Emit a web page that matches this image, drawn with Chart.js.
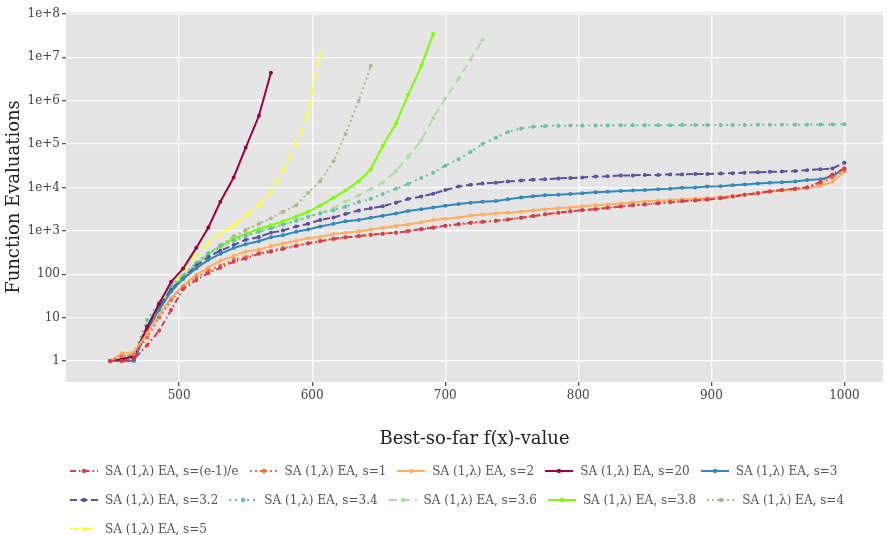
<!DOCTYPE html>
<html>
<head>
<meta charset="utf-8">
<script src="https://cdn.jsdelivr.net/npm/chart.js@4.4.1/dist/chart.umd.min.js"></script>
<style>
  body { margin: 0; background: #fff; }
  #wrap { position: relative; width: 887px; height: 535px; }
  #legend { position: absolute; left: 70px; top: 456px; width: 815px; display: flex; flex-wrap: wrap; font: 12px 'DejaVu Serif'; color: #555; }
  .item { display: flex; align-items: center; height: 29px; margin-right: 11px; white-space: nowrap; }
  .item canvas { margin-right: 7px; }
</style>
</head>
<body>
<div id="wrap">
  <canvas id="chart" width="887" height="535"></canvas>
  <div id="legend"></div>
</div>
<script>
// best-so-far f(x) targets (shared by every run)
const xs = [448, 457, 466, 476, 485, 494, 503, 513, 522, 531, 541, 550, 560, 569, 578, 588, 597, 606, 616, 625,
  635, 644, 653, 663, 672, 682, 691, 700, 710, 719, 728, 738, 747, 757, 766, 775, 785, 794, 803, 813,
  822, 832, 841, 850, 860, 869, 878, 888, 897, 907, 916, 925, 935, 944, 953, 963, 972, 982, 991, 1000];

const sE = [1, 1, 1.1, 2.3, 5, 15, 45, 74, 107, 141, 195, 229, 295, 330, 380, 447, 513, 575, 660, 710,
  760, 810, 860, 910, 980, 1100, 1200, 1320, 1430, 1530, 1620, 1700, 1820, 2000, 2190, 2400, 2630, 2820, 3020, 3160,
  3390, 3630, 3890, 4070, 4320, 4570, 4790, 5010, 5250, 5620, 6170, 6760, 7410, 8130, 8710, 9330, 10000, 13500, 20000, 27500];
const s1 = [1, 1.3, 1.4, 3.5, 10, 25, 50, 85, 120, 160, 215, 250, 310, 350, 400, 460, 520, 580, 650, 700,
  750, 800, 860, 920, 990, 1080, 1170, 1290, 1400, 1510, 1600, 1700, 1830, 2000, 2180, 2380, 2600, 2800, 3000, 3160,
  3400, 3650, 3900, 4100, 4350, 4600, 4850, 5050, 5300, 5700, 6200, 6800, 7500, 8200, 8800, 9400, 10200, 12500, 17000, 25000];
const s2 = [1, 1.5, 1.6, 4.3, 11.5, 28, 55, 98, 145, 205, 265, 330, 370, 445, 510, 590, 675, 725, 850, 910,
  980, 1070, 1170, 1290, 1410, 1580, 1780, 1900, 2040, 2240, 2370, 2510, 2630, 2750, 2950, 3160, 3310, 3470, 3670, 3890,
  4070, 4270, 4520, 4790, 4950, 5130, 5310, 5500, 5750, 6030, 6460, 6920, 7410, 7940, 8510, 9020, 9550, 11000, 13500, 22900];
const s20 = [1, 1.1, 1.3, 6, 21, 67, 135, 410, 1200, 4700, 17000, 82000, 450000, 4400000];
const s3 = [1, 1, 1, 5.2, 15, 40, 78, 138, 215, 295, 400, 490, 575, 710, 795, 955, 1070, 1260, 1450, 1660,
  1780, 2000, 2240, 2500, 2880, 3160, 3470, 3800, 4170, 4470, 4680, 4900, 5370, 5890, 6300, 6600, 6760, 7080, 7400, 7760,
  8000, 8300, 8500, 8700, 9100, 9300, 9800, 10000, 10500, 10700, 11200, 11700, 12300, 12900, 13200, 13800, 14800, 15500, 18200, 27500];
const s32 = [1, 1.1, 1.2, 6.3, 18, 45, 80, 158, 250, 350, 470, 620, 720, 910, 1020, 1260, 1450, 1780, 2040, 2450,
  2950, 3300, 3700, 4470, 5400, 6200, 7200, 8700, 10500, 11500, 12300, 12900, 13800, 14500, 15100, 15500, 16200, 16600, 17000, 17800,
  18200, 19000, 19000, 19500, 19500, 20000, 20000, 20400, 20400, 20900, 21400, 21900, 22400, 22900, 23400, 24000, 25100, 26300, 27500, 37000];
const s34 = [1, 1.2, 1.5, 8.8, 23, 56, 95, 185, 300, 440, 600, 770, 950, 1150, 1400, 1700, 2100, 2500, 3000, 3600,
  4600, 5500, 7100, 9300, 12000, 16600, 22000, 31600, 45000, 66000, 100000, 141000, 190000, 229000, 251000, 263000, 265000, 268000, 268000, 270000,
  270000, 271000, 272000, 272000, 273000, 273000, 274000, 275000, 275000, 276000, 276000, 277000, 278000, 278000, 279000, 280000, 281000, 282000, 284000, 288000];
const s36 = [1, 1.1, 1.2, 7, 20, 52, 90, 180, 290, 420, 580, 750, 950, 1150, 1400, 1750, 2150, 2600, 3300, 4700,
  6600, 9100, 13000, 24000, 51000, 123000, 400000, 1120000, 3200000, 8900000, 25000000];
const s38 = [1, 1, 1.1, 5.5, 18, 50, 83, 175, 290, 435, 660, 850, 1100, 1350, 1650, 2150, 2750, 3800, 5800, 8500,
  14000, 26000, 89000, 300000, 1350000, 6300000, 35000000];
const s4 = [1, 1.1, 1.3, 6.5, 20, 55, 87, 180, 300, 470, 740, 1050, 1450, 1950, 2750, 3900, 7600, 14000, 40000, 170000,
  1000000, 6300000];
const s5 = [1, 1, 1.1, 6, 18, 45, 126, 280, 525, 850, 1300, 2200, 3900, 7900, 24000, 100000, 510000, 11700000];

const labels = ['SA (1,λ) EA, s=(e-1)/e', 'SA (1,λ) EA, s=1', 'SA (1,λ) EA, s=2', 'SA (1,λ) EA, s=20',
  'SA (1,λ) EA, s=3', 'SA (1,λ) EA, s=3.2', 'SA (1,λ) EA, s=3.4', 'SA (1,λ) EA, s=3.6',
  'SA (1,λ) EA, s=3.8', 'SA (1,λ) EA, s=4', 'SA (1,λ) EA, s=5'];
const values = [sE, s1, s2, s20, s3, s32, s34, s36, s38, s4, s5];
const colors = ['#D53E4F', '#F46D43', '#FDAE61', '#9E0142', '#3288BD', '#5E4FA2', '#66C2A5', '#ABDDA4', '#7CFC00', '#B2B38A', '#FFFF33'];
const dashes = [[6, 3, 1.5, 3], [2, 3], [], [], [], [7, 3.5], [2, 4], [8, 5], [], [2, 3], [9, 5]];

const xTicks = [500, 600, 700, 800, 900, 1000];
const yTicks = [1, 10, 100, 1e3, 1e4, 1e5, 1e6, 1e7, 1e8];

Chart.defaults.font.family = "'DejaVu Serif'";

const panelBg = {
  id: 'panelBg',
  beforeDraw(chart) {
    const a = chart.chartArea;
    chart.ctx.save();
    chart.ctx.fillStyle = '#E5E5E5';
    chart.ctx.fillRect(a.left, a.top, a.right - a.left, a.bottom - a.top);
    chart.ctx.restore();
  }
};

const datasets = values.map((vals, k) => ({
  label: labels[k],
  data: vals.map((v, i) => ({ x: xs[i], y: v })),
  borderColor: colors[k],
  backgroundColor: colors[k],
  pointBackgroundColor: colors[k],
  borderDash: dashes[k],
  borderWidth: 2,
  pointRadius: 2,
  pointBorderWidth: 0,
  tension: 0,
  fill: false
}));

new Chart(document.getElementById('chart'), {
  type: 'line',
  data: { datasets: datasets },
  options: {
    responsive: false,
    animation: false,
    layout: { padding: { left: 0, right: 2, top: 12, bottom: 83 } },
    plugins: { legend: { display: false }, tooltip: { enabled: false } },
    scales: {
      x: {
        type: 'linear',
        bounds: 'data',
        min: 415,
        max: 1029,
        afterBuildTicks: s => { s.ticks = xTicks.map(v => ({ value: v })); },
        afterFit: s => { s.height = 70; },
        grid: { color: '#FFFFFF', lineWidth: 1.3, tickColor: '#555', tickLength: 4 },
        border: { display: false },
        ticks: { color: '#444', font: { size: 12 }, padding: 3, maxRotation: 0, callback: v => String(v) },
        title: { display: true, text: 'Best-so-far f(x)-value', color: '#222', font: { size: 18 }, padding: { top: 0, bottom: 2 } }
      },
      y: {
        type: 'logarithmic',
        bounds: 'data',
        min: 0.328,
        max: 1.11e8,
        afterBuildTicks: s => { s.ticks = yTicks.map(v => ({ value: v })); },
        afterFit: s => { s.width = 66; },
        grid: { color: '#FFFFFF', lineWidth: 1.3, tickColor: '#555', tickLength: 4 },
        border: { display: false },
        ticks: {
          color: '#444',
          font: { size: 12 },
          padding: 2,
          callback: v => v < 1000 ? String(v) : '1e+' + Math.round(Math.log10(v))
        },
        title: { display: true, text: 'Function Evaluations', color: '#222', font: { size: 18 }, padding: { top: 4, bottom: 0 } }
      }
    }
  },
  plugins: [panelBg]
});

// legend below the plot, rows flow from the left
const legend = document.getElementById('legend');
labels.forEach((text, k) => {
  const item = document.createElement('div');
  item.className = 'item';
  const sw = document.createElement('canvas');
  sw.width = 28;
  sw.height = 10;
  const c = sw.getContext('2d');
  c.strokeStyle = colors[k];
  c.lineWidth = 2;
  c.setLineDash(dashes[k]);
  c.beginPath();
  c.moveTo(0, 5);
  c.lineTo(28, 5);
  c.stroke();
  c.fillStyle = colors[k];
  c.beginPath();
  c.arc(14, 5, 2.2, 0, Math.PI * 2);
  c.fill();
  const span = document.createElement('span');
  span.textContent = text;
  item.appendChild(sw);
  item.appendChild(span);
  legend.appendChild(item);
});
</script>
</body>
</html>
